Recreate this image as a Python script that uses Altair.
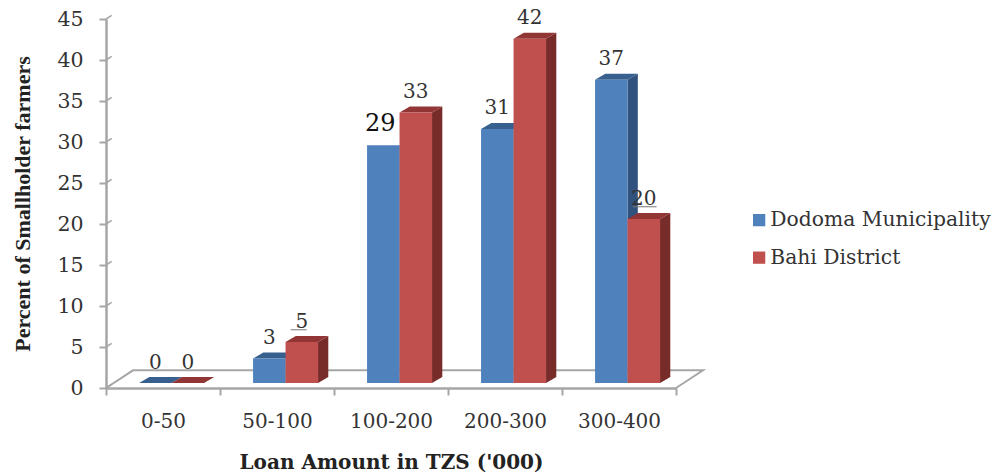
import altair as alt
import pandas as pd

categories = ["0-50", "50-100", "100-200", "200-300", "300-400"]
dodoma = [0, 3, 29, 31, 37]
bahi = [0, 5, 33, 42, 20]
series_names = ["Dodoma Municipality", "Bahi District"]
y_ticks = list(range(0, 50, 5))

W, H = 570, 369
BLUE, BLUE_SIDE, BLUE_TOP = "#4f81bd", "#31527c", "#38608f"
RED, RED_SIDE, RED_TOP = "#c0504d", "#772c2a", "#913634"
AXIS = "#a6a6a6"
TEXT = "#333333"
SERIF = "DejaVu Serif"

BAR_W, START, DX, DY, BASE = 0.285, 0.29, 0.09, 0.73, 0.6
FLOOR_DX, FLOOR_DY = 0.237, 2.15

front, side, top, labels = [], [], [], []
for s, (name, vals) in enumerate(zip(series_names, [dodoma, bahi])):
    for i, v in enumerate(vals):
        l = i + START + s * BAR_W
        r = l + BAR_W
        t = v + BASE
        front.append(dict(series=name, s=s, l=l, r=r, b=BASE, t=t))
        key = f"{s}-{i}"
        side += [dict(id=key, s=s, x=r, y=t, y2=BASE),
                 dict(id=key, s=s, x=r + DX, y=t + DY, y2=BASE + DY)]
        if v != 29:  # its top face is hidden by the white box of the label
            top += [dict(id=key, s=s, x=l, y=t, y2=t),
                    dict(id=key, s=s, x=l + DX, y=t + DY, y2=t),
                    dict(id=key, s=s, x=r, y=t + DY, y2=t),
                    dict(id=key, s=s, x=r + DX, y=t + DY, y2=t + DY)]
        labels.append(dict(x=(l + r) / 2, y=t + 2.5, label=str(v), big=v == 29))

front, side, top, labels = map(pd.DataFrame, (front, side, top, labels))
leaders = pd.DataFrame([
    dict(x=1.62, x2=1.76, y=7.1),
    dict(x=4.62, x2=4.83, y=22.1),
])
floor = pd.DataFrame([
    dict(o=0, x=0, y=0),
    dict(o=1, x=FLOOR_DX, y=FLOOR_DY),
    dict(o=2, x=5 + FLOOR_DX, y=FLOOR_DY),
    dict(o=3, x=5, y=0),
])
stubs = pd.DataFrame(dict(y=y_ticks, y2=[v + 0.45 for v in y_ticks], x=[0] * 10, x2=[0.05] * 10))

xs = alt.Scale(domain=[0, 5], nice=False, zero=False)
ys = alt.Scale(domain=[0, 45], nice=False, zero=False)

x_axis = alt.Axis(
    values=[0, 1, 2, 3, 4, 5], grid=False, title="Loan  Amount in TZS ('000)",
    labelExpr="['0-50','50-100','100-200','200-300','300-400',''][datum.value]",
    labelOffset=57, labelFont=SERIF, labelFontSize=20, labelColor=TEXT, labelPadding=16,
    labelFlush=False, labelOverlap=False, labelBound=False,
    domainColor=AXIS, domainWidth=2.5, tickColor=AXIS, tickWidth=2, tickSize=7,
    titleFont=SERIF, titleFontWeight="bold", titleFontSize=20, titleColor="#222222",
    titleY=74, titleBaseline="middle",
)
y_axis = alt.Axis(
    values=y_ticks, grid=False, title="Percent of Smallholder farmers",
    labelFont=SERIF, labelFontSize=20.5, labelColor=TEXT, labelPadding=16,
    labelFlush=False, labelOverlap=False, labelBound=False,
    domainColor=AXIS, domainWidth=2.5, tickColor=AXIS, tickWidth=2, tickSize=7,
    titleFont="Liberation Serif", titleFontWeight="bold", titleFontSize=22, titleColor="#222222",
    titleX=-84, titleBaseline="middle",
)

X = alt.X("x:Q", scale=xs, axis=x_axis)
Y = alt.Y("y:Q", scale=ys, axis=y_axis)

floor_line = alt.Chart(floor).mark_line(color=AXIS, strokeWidth=2).encode(x=X, y=Y, order="o:Q")
stub_rule = alt.Chart(stubs).mark_rule(color=AXIS, strokeWidth=1.5).encode(x=X, x2="x2:Q", y=Y, y2="y2:Q")


def faces(s, side_col, top_col):
    a = alt.Chart(side[side.s == s]).mark_area(color=side_col, orient="vertical").encode(
        x=X, y=Y, y2="y2:Q", detail="id:N")
    b = alt.Chart(top[top.s == s]).mark_area(color=top_col, orient="vertical").encode(
        x=X, y=Y, y2="y2:Q", detail="id:N")
    return [a, b]


color = alt.Color(
    "series:N",
    scale=alt.Scale(domain=series_names, range=[BLUE, RED]),
    legend=alt.Legend(
        orient="none", legendX=643, legendY=191, title=None, symbolType="square", symbolSize=150,
        symbolStrokeWidth=0, symbolOpacity=1, labelFont=SERIF, labelFontSize=20.3, labelColor=TEXT,
        rowPadding=16.5, labelOffset=1, labelLimit=300,
    ),
)


def fronts(s):
    return alt.Chart(front[front.s == s]).mark_rect().encode(
        x=alt.X("l:Q", scale=xs, axis=x_axis), x2="r:Q",
        y=alt.Y("b:Q", scale=ys, axis=y_axis), y2="t:Q", color=color)


text_small = alt.Chart(labels[~labels.big]).mark_text(
    font=SERIF, fontSize=20, color=TEXT, baseline="middle").encode(x=X, y=Y, text="label:N")
text_big = alt.Chart(labels[labels.big]).mark_text(
    font=SERIF, fontSize=24, color="#111111", baseline="middle", dx=-3, dy=-1).encode(x=X, y=Y, text="label:N")
leader_rule = alt.Chart(leaders).mark_rule(color="#777777", strokeWidth=1).encode(x=X, x2="x2:Q", y=Y)

chart = alt.layer(
    floor_line, stub_rule,
    *faces(0, BLUE_SIDE, BLUE_TOP), fronts(0),
    *faces(1, RED_SIDE, RED_TOP), fronts(1),
    text_small, text_big, leader_rule,
).properties(
    width=W, height=H, background="white",
    autosize=alt.AutoSizeParams(type="none"),
    padding={"left": 98, "top": 11, "right": 319, "bottom": 87},
).configure_view(stroke=None)

chart.save("out.html", embed_options={"renderer": "svg", "actions": False})
